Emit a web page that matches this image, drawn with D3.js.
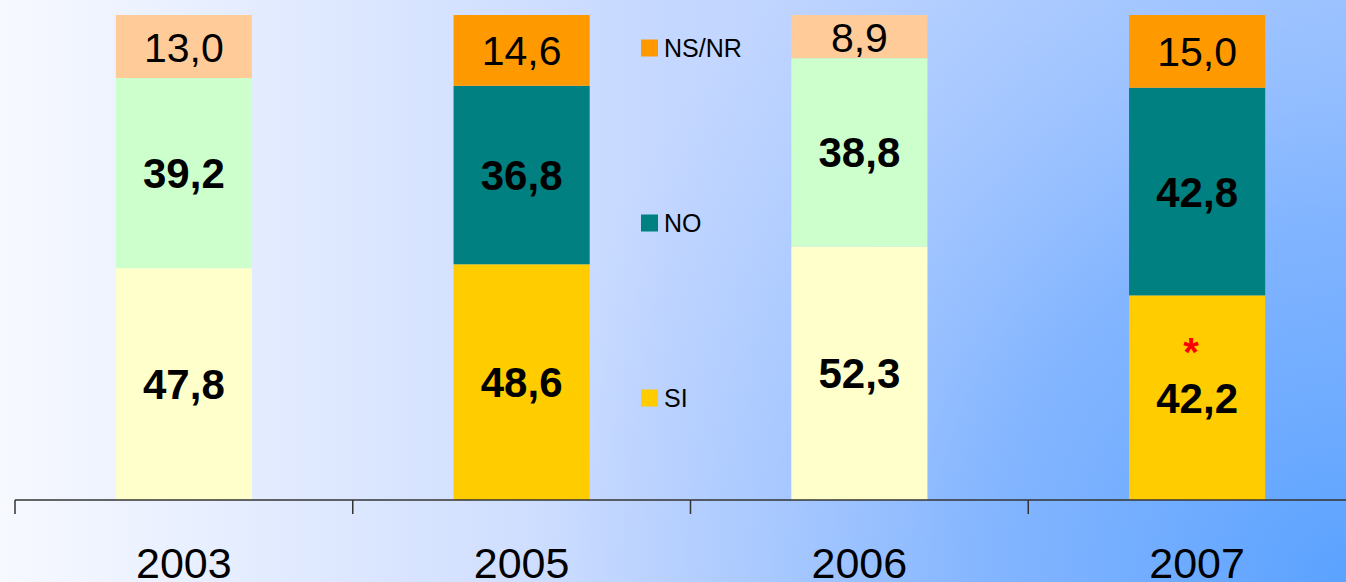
<!DOCTYPE html>
<html>
<head>
<meta charset="utf-8">
<script src="https://cdn.jsdelivr.net/npm/d3@7"></script>
<style>
  html, body { margin: 0; padding: 0; overflow: hidden; }
  svg { display: block; }
</style>
</head>
<body>
<svg id="chart" width="1346" height="582"></svg>
<script>
// data
const years = ['2003', '2005', '2006', '2007'];
const siVals = [47.8, 48.6, 52.3, 42.2];
const noVals = [39.2, 36.8, 38.8, 42.8];
const nsnrVals = [13.0, 14.6, 8.9, 15.0];
const seriesNames = ['SI', 'NO', 'NS/NR'];
const paleYears = ['2003', '2006'];
const notes = [{ year: '2007', series: 'SI', mark: '*' }];

const width = 1346, height = 582;
const svg = d3.select('#chart');

// background
const defs = svg.append('defs');
const lin = defs.append('linearGradient').attr('id', 'bgLin')
    .attr('x1', '0%').attr('y1', '0%').attr('x2', '100%').attr('y2', '0%');
lin.append('stop').attr('offset', '0%').attr('stop-color', '#F7F9FF');
lin.append('stop').attr('offset', '50%').attr('stop-color', '#C4D7FF');
lin.append('stop').attr('offset', '100%').attr('stop-color', '#AACAFF');
const rad = defs.append('radialGradient').attr('id', 'bgRad')
    .attr('gradientUnits', 'userSpaceOnUse')
    .attr('cx', 1346).attr('cy', 582).attr('r', 820);
rad.append('stop').attr('offset', '0%').attr('stop-color', '#5AA2FF').attr('stop-opacity', 1);
rad.append('stop').attr('offset', '45%').attr('stop-color', '#78AFFF').attr('stop-opacity', 0.8);
rad.append('stop').attr('offset', '100%').attr('stop-color', '#9CC2FF').attr('stop-opacity', 0);
svg.append('rect').attr('width', width).attr('height', height).attr('fill', 'url(#bgLin)');
svg.append('rect').attr('width', width).attr('height', height).attr('fill', 'url(#bgRad)');

const fmt = d3.formatLocale({ decimal: ',', thousands: '.', grouping: [3], currency: ['', '€'] }).format('.1f');

const x = d3.scaleBand().domain(years).range([15, 15 + 4 * 337.75]);
const y = d3.scaleLinear().domain([0, 100]).range([500, 15]);
const barW = x.bandwidth() * 0.403;

const colors = {
  pale: { 'SI': '#FFFFCC', 'NO': '#CCFFCC', 'NS/NR': '#FFCC99' },
  full: { 'SI': '#FFCC00', 'NO': '#008080', 'NS/NR': '#FF9900' }
};

const table = years.map((yr, i) => ({ year: yr, 'SI': siVals[i], 'NO': noVals[i], 'NS/NR': nsnrVals[i] }));
const stacked = d3.stack().keys(seriesNames)(table);

const font = 'Liberation Sans, Arial, sans-serif';

const layers = svg.selectAll('g.layer').data(stacked).enter().append('g').attr('class', 'layer');
layers.selectAll('rect').data(d => d.map(p => ({ key: d.key, p: p })))
  .enter().append('rect')
  .attr('x', d => x(d.p.data.year) + (x.bandwidth() - barW) / 2)
  .attr('width', barW)
  .attr('y', d => y(d.p[1]))
  .attr('height', d => y(d.p[0]) - y(d.p[1]))
  .attr('fill', d => (paleYears.includes(d.p.data.year) ? colors.pale : colors.full)[d.key]);

// value labels
layers.selectAll('text').data(d => d.map(p => ({ key: d.key, p: p })))
  .enter().append('text')
  .attr('x', d => x(d.p.data.year) + x.bandwidth() / 2)
  .attr('y', d => (y(d.p[0]) + y(d.p[1])) / 2 + 15)
  .attr('text-anchor', 'middle')
  .attr('font-family', font)
  .attr('font-size', d => d.key === 'NS/NR' ? 41 : 42)
  .attr('font-weight', d => d.key === 'NS/NR' ? 'normal' : 'bold')
  .attr('fill', '#000')
  .text(d => fmt(d.p.data[d.key]));

// note marks
notes.forEach(n => {
  const layer = stacked.find(s => s.key === n.series);
  const p = layer[years.indexOf(n.year)];
  svg.append('text')
    .attr('x', x(n.year) + x.bandwidth() / 2 - 6)
    .attr('y', y(p[1]) + 71)
    .attr('text-anchor', 'middle')
    .attr('font-family', font)
    .attr('font-size', 40)
    .attr('font-weight', 'bold')
    .attr('fill', '#FF0000')
    .text(n.mark);
});

// axis
const axisG = svg.append('g');
axisG.append('line').attr('x1', x(years[0])).attr('x2', width)
  .attr('y1', y(0)).attr('y2', y(0))
  .attr('stroke', '#333').attr('stroke-width', 1.5);
axisG.selectAll('line.tick').data(years).enter().append('line')
  .attr('class', 'tick')
  .attr('x1', d => x(d)).attr('x2', d => x(d))
  .attr('y1', y(0)).attr('y2', y(0) + 14)
  .attr('stroke', '#333').attr('stroke-width', 1.5);
axisG.selectAll('text').data(years).enter().append('text')
  .attr('x', d => x(d) + x.bandwidth() / 2)
  .attr('y', 578)
  .attr('text-anchor', 'middle')
  .attr('font-family', font)
  .attr('font-size', 43)
  .attr('fill', '#000')
  .text(d => d);

// legend
const legendY = { 'NS/NR': 48, 'NO': 223, 'SI': 398 };
const leg = svg.selectAll('g.leg').data(seriesNames).enter().append('g').attr('class', 'leg')
  .attr('transform', d => `translate(641,${legendY[d]})`);
leg.append('rect').attr('x', 0).attr('y', -8.5).attr('width', 17).attr('height', 17)
  .attr('fill', d => colors.full[d]);
leg.append('text').attr('x', 23).attr('y', 9)
  .attr('font-family', font).attr('font-size', 25).attr('fill', '#000')
  .text(d => d);
</script>
</body>
</html>
